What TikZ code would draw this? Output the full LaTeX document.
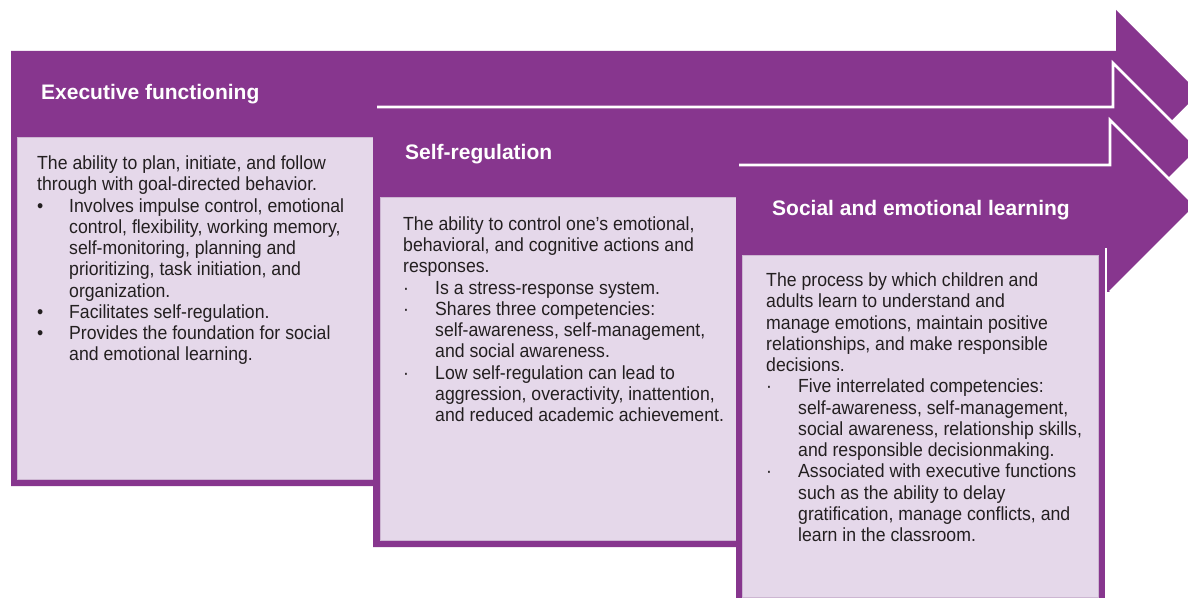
\documentclass[tikz,border=0pt]{standalone}
\usepackage{fontspec}
\setmainfont{Liberation Sans}[FakeStretch=0.93]
\newfontfamily\titlefont{Liberation Sans}
\definecolor{purp}{RGB}{135,54,142}
\definecolor{lav}{RGB}{229,216,234}
\definecolor{lavedge}{RGB}{205,182,210}
\definecolor{ink}{RGB}{35,31,32}
\newcommand\bulA{\makebox[32bp][l]{\textbullet}}
\newcommand\bulB{\makebox[32bp][l]{·}}
\newcommand\hang{\hspace*{32bp}}
\begin{document}
\begin{tikzpicture}[x=1bp,y=-1bp,
  arrowfill/.style={fill=purp},
  outline/.style={draw=white, line width=2.6bp, line join=miter},
  panel/.style={fill=lav, draw=lavedge, line width=0.6bp},
  title/.style={anchor=base west, inner sep=0pt, text=white, font=\titlefont\bfseries\fontsize{21bp}{25bp}\selectfont},
  body/.style={anchor=base west, inner sep=0pt, text=ink, align=left, font=\fontsize{19bp}{21.25bp}\selectfont}]
\useasboundingbox (0,0) rectangle (1188,598);
\clip (0,0) rectangle (1188,598);
% arrow 1
\path[arrowfill] (11,51) -- (1116,51) -- (1116,10) -- (1199,93) -- (1116,176) -- (1116,135) -- (380,135) -- (380,486) -- (11,486) -- cycle;
\path[panel] (17,137) rectangle (373,479);
% arrow 2
\path[arrowfill] (373,107) -- (1113,107) -- (1113,63) -- (1199,149) -- (1113,235) -- (1113,191) -- (742,191) -- (742,547) -- (373,547) -- cycle;
\path[outline] (377,107) -- (1113,107) -- (1113,63) -- (1199,149) -- (1113,235);
\path[panel] (380,197) rectangle (736,540);
% arrow 3
\path[arrowfill] (736,165) -- (1110,165) -- (1110,120) -- (1196,206) -- (1110,292) -- (1106,292) -- (1106,600) -- (736,600) -- cycle;
\path[outline] (739,165) -- (1110,165) -- (1110,120) -- (1196,206) -- (1110,292);
\path[outline] (1106,248) -- (1106,600);
\path[panel] (742,255) rectangle (1098,597);
% titles
\node[title] (t1) at (41,100) {Executive functioning};
\node[title] (t2) at (405,160) {Self-regulation};
\node[title] (t3) at (772,216) {Social and emotional learning};
% texts (anchor is the baseline of the last line)
\node[body] (b1) at (37,360.8) {The ability to plan, initiate, and follow\\
through with goal-directed behavior.\\
\bulA Involves impulse control, emotional\\
\hang control, flexibility, working memory,\\
\hang self-monitoring, planning and\\
\hang prioritizing, task initiation, and\\
\hang organization.\\
\bulA Facilitates self-regulation.\\
\bulA Provides the foundation for social\\
\hang and emotional learning.};
\node[body] (b2) at (403,421.5) {The ability to control one’s emotional,\\
behavioral, and cognitive actions and\\
responses.\\
\bulB Is a stress-response system.\\
\bulB Shares three competencies:\\
\hang self-awareness, self-management,\\
\hang and social awareness.\\
\bulB Low self-regulation can lead to\\
\hang aggression, overactivity, inattention,\\
\hang and reduced academic achievement.};
\node[body] (b3) at (766,541.7) {The process by which children and\\
adults learn to understand and\\
manage emotions, maintain positive\\
relationships, and make responsible\\
decisions.\\
\bulB Five interrelated competencies:\\
\hang self-awareness, self-management,\\
\hang social awareness, relationship skills,\\
\hang and responsible decisionmaking.\\
\bulB Associated with executive functions\\
\hang such as the ability to delay\\
\hang gratification, manage conflicts, and\\
\hang learn in the classroom.};
\end{tikzpicture}
\end{document}
